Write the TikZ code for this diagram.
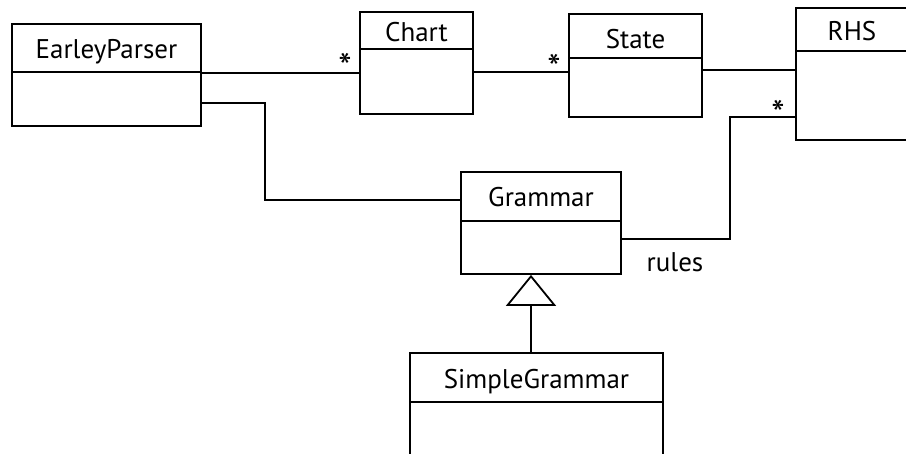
\documentclass[tikz,border=0pt]{standalone}
\usepackage{fontspec}
\setmainfont{PT Sans}
\usetikzlibrary{arrows.meta,calc}
\begin{document}
\begin{tikzpicture}[x=1pt,y=-1pt,
  cls/.style={draw=black,line width=1.8pt,rectangle,inner sep=0pt,fill=none},
  ttl/.style={font=\fontsize{27}{30}\selectfont,inner sep=0pt,anchor=base},
  mult/.style={font=\fontsize{38}{40}\selectfont,inner sep=0pt,anchor=base},
  conn/.style={line width=1.8pt,draw=black},
  gen/.style={conn,-{Triangle[open,length=31pt,width=50pt,line width=1.8pt]}}]
\useasboundingbox (0,0) rectangle (906,453);
% classes
\node[cls,minimum width=189pt,minimum height=102pt] (ep) at (106.5,75) {};
\draw[conn] ($(ep.north west)+(0,49)$) -- ($(ep.north east)+(0,49)$);
\node[ttl] (epT) at (106.5,58) {EarleyParser};

\node[cls,minimum width=113pt,minimum height=102pt] (ch) at (416.5,63) {};
\draw[conn] ($(ch.north west)+(0,38)$) -- ($(ch.north east)+(0,38)$);
\node[ttl] (chT) at (416.5,41) {Chart};

\node[cls,minimum width=133pt,minimum height=103pt] (st) at (635.5,65.5) {};
\draw[conn] ($(st.north west)+(0,45)$) -- ($(st.north east)+(0,45)$);
\node[ttl] (stT) at (635.5,48) {State};

\node[cls,minimum width=124pt,minimum height=132pt] (rh) at (858,74) {};
\draw[conn] ($(rh.north west)+(0,44)$) -- ($(rh.north east)+(0,44)$);
\node[ttl] (rhT) at (852,40) {RHS};

\node[cls,minimum width=160pt,minimum height=102pt] (gr) at (541,223) {};
\draw[conn] ($(gr.north west)+(0,50)$) -- ($(gr.north east)+(0,50)$);
\node[ttl] (grT) at (541,206) {Grammar};

\node[cls,minimum width=253pt,minimum height=120pt] (sg) at (536.5,413) {};
\draw[conn] ($(sg.north west)+(0,50)$) -- ($(sg.north east)+(0,50)$);
\node[ttl] (sgT) at (536.5,388) {SimpleGrammar};

% associations
\draw[conn] (ep.east |- 0,73) -- (ch.west |- 0,73);
\node[mult] (m1) at (345,80) {*};
\draw[conn] (ch.east |- 0,72) -- (st.west |- 0,72);
\node[mult] (m2) at (554,81) {*};
\draw[conn] (st.east |- 0,70) -- (rh.west |- 0,70);
\draw[conn] (ep.east |- 0,103) -| (265,200) -- (gr.west |- 0,200);
\draw[conn] (gr.east |- 0,239) -| (730,117) -- (rh.west |- 0,117);
\node[mult] (m3) at (778,127) {*};
\node[ttl] (rl) at (675,271) {rules};
% generalization
\draw[gen] (sg.north -| 531,0) -- (gr.south -| 531,0);
\end{tikzpicture}
\end{document}
